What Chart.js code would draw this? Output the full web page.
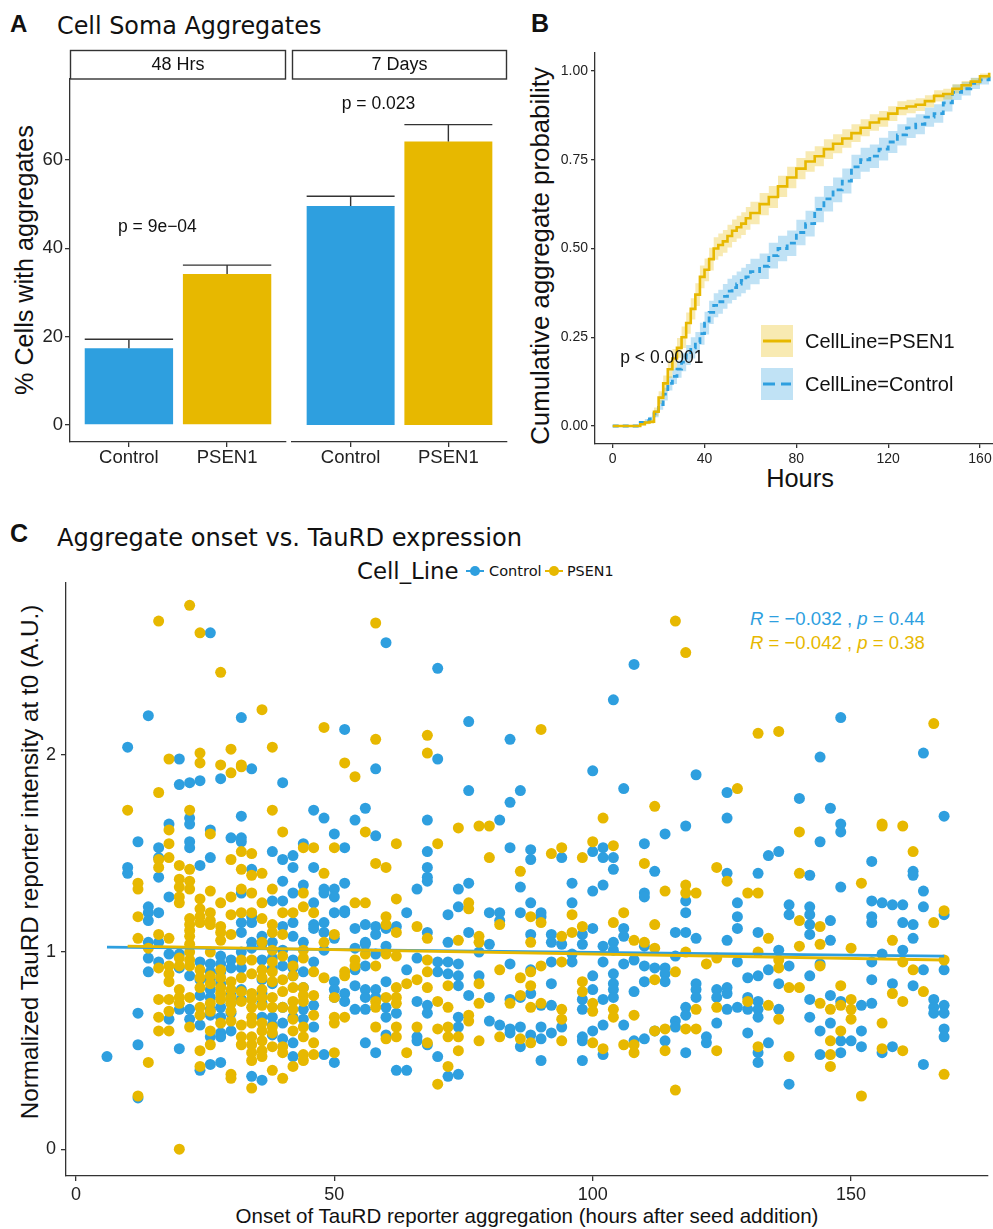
<!DOCTYPE html>
<html>
<head>
<meta charset="utf-8">
<script src="https://cdn.jsdelivr.net/npm/chart.js@4.4.1/dist/chart.umd.min.js"></script>
<style>
html, body { margin: 0; padding: 0; background: #fff; overflow: hidden; }
body { width: 993px; height: 1229px; position: relative; font-family: "Liberation Sans", Arial, sans-serif; color: #111; }
canvas { position: absolute; }
.t { position: absolute; white-space: nowrap; line-height: 1; transform: translateY(-50%); }
.c { position: absolute; white-space: nowrap; line-height: 1; transform: translate(-50%, -50%); }
.r { position: absolute; white-space: nowrap; line-height: 1; transform: translate(-50%, -50%) rotate(-90deg); }
.b { font-weight: bold; }
.dv { font-family: "DejaVu Sans", Verdana, sans-serif; }
.mk { position: absolute; width: 18px; height: 12px; transform: translate(-50%, -50%); }
.mk::before { content: ""; position: absolute; left: 0; right: 0; top: 5px; height: 2px; background: currentColor; }
.mk::after { content: ""; position: absolute; left: 4px; top: 1px; width: 10px; height: 10px; border-radius: 50%; background: currentColor; }
</style>
</head>
<body>

<div class="t b" style="left:10px; top:24px; font-size:24px;">A</div>
<div class="t dv fit" data-w="265" style="left:57px; top:27px; font-size:22px;">Cell Soma Aggregates</div>
<div class="t b" style="left:531px; top:23px; font-size:25px;">B</div>
<div class="t b" style="left:10px; top:533px; font-size:25px;">C</div>
<div class="t dv fit" data-w="465" style="left:57px; top:538px; font-size:22px;">Aggregate onset vs. TauRD expression</div>

<div class="r fit" data-w="270" style="left:25px; top:260px; font-size:22px;">% Cells with aggregates</div>
<div class="r fit" data-w="378" style="left:541px; top:256px; font-size:22px;">Cumulative aggregate probability</div>
<div class="c fit" data-w="68" style="left:800px; top:479px; font-size:25px;">Hours</div>
<div class="r fit" data-w="515" style="left:30px; top:862px; font-size:18px;">Normalized TauRD reporter intensity at t0 (A.U.)</div>
<div class="c fit" data-w="583" style="left:527px; top:1216px; font-size:18.5px;">Onset of TauRD reporter aggregation (hours after seed addition)</div>

<div class="t dv fit" data-w="102" style="left:357px; top:571px; font-size:17px;">Cell_Line</div>
<div class="mk" style="left:475px; top:571px; color:#2E9FDF;"></div>
<div class="t dv fit" data-w="53" style="left:489px; top:571px; font-size:14px;">Control</div>
<div class="mk" style="left:554px; top:571px; color:#E7B800;"></div>
<div class="t dv fit" data-w="47" style="left:567px; top:571px; font-size:14px;">PSEN1</div>

<div class="t fit" data-w="175" style="left:750px; top:619px; font-size:17.5px; color:#2E9FDF;"><i>R</i> = −0.032 , <i>p</i> = 0.44</div>
<div class="t fit" data-w="175" style="left:750px; top:643px; font-size:17.5px; color:#E7B800;"><i>R</i> = −0.042 , <i>p</i> = 0.38</div>

<canvas id="a1" width="290" height="490" style="left:0px; top:0px;"></canvas>
<canvas id="a2" width="230" height="490" style="left:286px; top:0px;"></canvas>
<canvas id="km" width="500" height="500" style="left:510px; top:0px;"></canvas>
<canvas id="sc" width="993" height="673" style="left:0px; top:556px;"></canvas>

<script>
const BLUE = '#2E9FDF';
const YELLOW = '#E7B800';
const BLUE_BAND = 'rgba(46,159,223,0.30)';
const YELLOW_BAND = 'rgba(231,184,0,0.30)';
const AXIS = '#333';
const SANS = '"Liberation Sans", Arial, sans-serif';

// ---- panel A : % cells with aggregates ----
const groups = ['Control', 'PSEN1'];
const mean48h = [17.4, 34.2];
const upper48h = [19.4, 36.2];
const mean7d = [49.6, 64.2];
const upper7d = [51.8, 68.0];
const aggTicks = [0, 20, 40, 60];

// ---- panel B : cumulative aggregate probability ----
const kmHours = [0, 10, 12, 14, 16, 18, 20, 22, 24, 26, 28, 30, 32, 34, 36, 38, 40, 42, 44, 46, 48, 50, 52, 54, 56, 58, 60,
  64, 68, 72, 76, 80, 84, 88, 92, 96, 100, 104, 108, 112, 116, 120, 124, 128, 132, 136, 140, 144, 148, 152, 156, 160, 164];
const psenCum = [0, 0, 0.005, 0.01, 0.012, 0.04, 0.08, 0.12, 0.16, 0.19, 0.22, 0.25, 0.29, 0.33, 0.37, 0.42, 0.44, 0.47, 0.50, 0.51, 0.52, 0.535, 0.55, 0.56, 0.57, 0.585, 0.60,
  0.625, 0.645, 0.675, 0.70, 0.725, 0.745, 0.76, 0.78, 0.795, 0.81, 0.825, 0.84, 0.855, 0.865, 0.88, 0.895, 0.90, 0.905, 0.915, 0.93, 0.935, 0.95, 0.96, 0.97, 0.985, 0.995];
const ctrlCum = [0, 0, 0.01, 0.015, 0.02, 0.035, 0.06, 0.09, 0.12, 0.14, 0.16, 0.18, 0.20, 0.22, 0.235, 0.26, 0.29, 0.32, 0.34, 0.35, 0.365, 0.38, 0.39, 0.40, 0.41, 0.42, 0.435,
  0.45, 0.48, 0.50, 0.515, 0.545, 0.57, 0.61, 0.64, 0.665, 0.69, 0.73, 0.75, 0.76, 0.78, 0.80, 0.82, 0.84, 0.85, 0.87, 0.88, 0.91, 0.94, 0.95, 0.965, 0.975, 0.985];
const psenHalf = [0, 0, 0.003, 0.005, 0.006, 0.012, 0.018, 0.022, 0.025, 0.027, 0.028, 0.03, 0.03, 0.03, 0.032, 0.032, 0.032, 0.032, 0.032, 0.032, 0.032, 0.032, 0.032, 0.032, 0.032, 0.032, 0.032,
  0.031, 0.031, 0.03, 0.03, 0.03, 0.029, 0.028, 0.028, 0.027, 0.026, 0.025, 0.024, 0.023, 0.022, 0.021, 0.02, 0.019, 0.018, 0.017, 0.016, 0.015, 0.013, 0.012, 0.01, 0.008, 0.006];
const ctrlHalf = [0, 0, 0.004, 0.005, 0.006, 0.01, 0.014, 0.018, 0.02, 0.022, 0.024, 0.026, 0.028, 0.03, 0.03, 0.031, 0.032, 0.033, 0.034, 0.034, 0.035, 0.035, 0.035, 0.035, 0.036, 0.036, 0.036,
  0.036, 0.036, 0.036, 0.036, 0.036, 0.036, 0.036, 0.036, 0.035, 0.035, 0.034, 0.034, 0.033, 0.032, 0.031, 0.03, 0.029, 0.028, 0.027, 0.026, 0.024, 0.022, 0.019, 0.016, 0.013, 0.01];
const kmXTicks = [0, 40, 80, 120, 160];
const kmYTicks = [0, 0.25, 0.5, 0.75, 1];

// ---- panel C : onset hour -> normalized intensity, per hour column ----
const controlCols = [
  [6, [0.47]], [10, [2.04, 1.43, 1.40]], [12, [1.56, 0.69, 0.53, 0.26]],
  [14, [2.20, 1.23, 1.20, 1.16, 1.05, 0.97, 0.90]], [16, [1.53, 1.48, 1.38, 1.20, 1.05, 0.95]],
  [18, [1.65, 1.28, 0.99, 0.66]], [20, [1.98, 1.85, 0.99, 0.92, 0.71, 0.51]],
  [22, [1.86, 1.68, 1.65, 1.56, 1.53, 0.88, 0.71, 0.66]], [24, [1.87, 1.44, 0.95, 0.86, 0.78, 0.63, 0.40]],
  [26, [2.62, 1.62, 1.48, 0.94, 0.90, 0.86, 0.81, 0.77, 0.71, 0.68, 0.57, 0.43]],
  [28, [1.88, 0.98, 0.94, 0.90, 0.84, 0.72, 0.67, 0.59, 0.57, 0.44]],
  [30, [1.58, 0.96, 0.92, 0.78, 0.74, 0.69, 0.60]], [32, [2.19, 1.69, 1.58, 1.56, 1.30, 1.15, 1.10, 1.00, 0.92, 0.81, 0.76]],
  [34, [1.93, 1.42, 1.18, 1.15, 1.05, 1.02, 0.37]], [36, [1.08, 1.04, 0.96, 0.86, 0.79, 0.74, 0.67, 0.35]],
  [38, [1.51, 1.26, 1.05, 0.97, 0.92, 0.84, 0.67, 0.63, 0.58]], [40, [1.86, 1.47, 1.36, 1.26, 1.13, 1.01, 0.93, 0.72, 0.64, 0.56]],
  [42, [1.49, 1.43, 1.30, 1.15, 1.08, 0.96, 0.92, 0.88, 0.67, 0.54, 0.47]], [44, [1.55, 1.34, 1.05, 0.90, 0.82, 0.71, 0.66]],
  [46, [1.72, 1.43, 1.25, 1.14, 1.12, 0.95, 0.73, 0.62]], [48, [1.68, 1.32, 1.30, 1.15, 1.10, 1.01, 0.48]],
  [50, [1.60, 1.32, 1.28, 1.20, 1.07, 0.85, 0.81, 0.77, 0.44]], [52, [2.13, 1.53, 1.35, 1.21, 1.20, 0.79, 0.75]],
  [54, [1.67, 1.12, 1.02, 0.91, 0.83, 0.71]], [56, [1.73, 1.14, 1.05, 1.04, 0.93, 0.81, 0.77, 0.71, 0.54]],
  [58, [1.93, 1.59, 1.13, 1.09, 0.99, 0.81, 0.77, 0.49]], [60, [2.57, 1.12, 1.03, 0.85, 0.72, 0.67, 0.58]],
  [62, [1.13, 0.69, 0.40]], [64, [1.20, 0.91, 0.40]], [66, [1.32, 0.97, 0.75, 0.57, 0.55]],
  [68, [1.67, 1.51, 1.43, 1.38, 1.36, 1.10, 0.73, 0.69, 0.53]], [70, [2.44, 1.98, 0.95, 0.90, 0.47]],
  [72, [1.19, 1.05, 0.95, 0.89, 0.37]], [74, [1.32, 1.23, 0.94, 0.88, 0.83, 0.67, 0.62, 0.38]],
  [76, [2.17, 1.82, 1.35, 1.10, 0.78]], [78, [1.00, 0.88]], [80, [1.20, 1.04, 0.77, 0.65]],
  [82, [1.67, 1.20, 1.16, 0.63]], [84, [2.08, 1.76, 1.53, 0.94, 0.76, 0.61, 0.59]],
  [86, [1.82, 1.33, 1.20, 0.77, 0.62, 0.52]], [88, [1.52, 1.47, 1.25, 1.09, 0.91, 0.79, 0.58]],
  [90, [1.20, 1.18, 0.73, 0.62, 0.56, 0.45]], [92, [1.09, 1.05, 0.95, 0.84, 0.73, 0.59]],
  [94, [1.48, 1.04, 0.62]], [96, [1.35, 1.25, 0.99, 0.95]], [98, [1.09, 1.04, 0.76, 0.71, 0.57, 0.55, 0.45]],
  [100, [1.92, 1.51, 1.31, 1.12, 0.88, 0.81, 0.60]], [102, [1.53, 1.48, 1.34, 1.03, 0.95, 0.76, 0.63, 0.48]],
  [104, [2.28, 1.48, 1.42, 1.05, 1.01, 0.89, 0.84, 0.81, 0.77]], [106, [1.83, 1.12, 1.08, 0.94, 0.63]],
  [108, [2.46, 0.96, 0.80, 0.55]], [110, [1.55, 1.30, 1.28, 1.03, 0.93, 0.85, 0.56]],
  [112, [1.41, 0.92, 0.60]], [114, [1.60, 0.92, 0.89, 0.85, 0.55]], [116, [1.10, 0.98, 0.65, 0.62]],
  [118, [1.64, 1.26, 1.20, 1.10, 0.72, 0.68, 0.49]], [120, [1.90, 1.07, 0.84, 0.81, 0.77]],
  [122, [0.57, 0.54]], [124, [0.81, 0.77, 0.64]], [126, [1.81, 1.68, 1.40, 1.06, 0.82, 0.79, 0.71]],
  [128, [1.25, 1.18, 1.12, 0.95, 0.72]], [130, [0.87, 0.77, 0.71, 0.59]],
  [132, [1.40, 1.10, 0.88, 0.75, 0.71, 0.67, 0.49, 0.44]], [134, [1.49, 0.91, 0.54]],
  [136, [1.51, 1.01, 0.84, 0.71]], [138, [1.24, 1.19, 0.93, 0.33]], [140, [1.78]],
  [142, [1.39, 1.23, 1.19, 1.14, 1.09, 0.88, 0.76, 0.67]], [144, [1.99, 1.56, 0.94, 0.60, 0.48]],
  [146, [1.73, 1.16, 1.06, 0.78, 0.64]], [148, [2.19, 1.65, 1.61, 1.33, 0.75, 0.55, 0.49]],
  [150, [0.55]], [152, [0.73, 0.60, 0.52]], [154, [1.46, 1.26, 1.18, 1.15, 0.95, 0.86, 0.74]],
  [156, [1.25, 0.99, 0.49]], [158, [1.24, 0.84, 0.52]], [160, [1.24, 1.15, 1.01]],
  [162, [1.41, 1.39, 1.14, 1.07, 0.83]], [164, [2.01, 1.31, 1.23, 0.91, 0.43]],
  [166, [0.76, 0.72, 0.69]], [168, [1.69, 1.19, 0.91, 0.73, 0.69, 0.61, 0.57]]
];
const psenCols = [
  [10, [1.72]], [12, [1.35, 1.32, 1.18, 1.07, 0.27]], [14, [1.02, 0.44]],
  [16, [2.68, 1.81, 1.47, 1.43, 1.09, 0.92, 0.76, 0.67, 0.60]],
  [18, [1.98, 1.62, 1.55, 1.48, 1.07, 0.93, 0.89, 0.85, 0.76, 0.70, 0.60]],
  [20, [1.44, 1.37, 1.33, 1.28, 1.25, 0.97, 0.93, 0.81, 0.77, 0.74, 0.00]],
  [22, [2.76, 1.72, 1.42, 1.36, 1.32, 1.17, 1.14, 1.11, 1.08, 1.04, 1.00, 0.96, 0.93, 0.77, 0.62]],
  [24, [2.62, 2.01, 1.96, 1.27, 1.22, 1.18, 1.15, 0.91, 0.87, 0.82, 0.72, 0.68, 0.50, 0.42]],
  [26, [1.60, 1.31, 1.20, 1.16, 1.14, 1.00, 0.88, 0.84, 0.74, 0.70, 0.60, 0.53]],
  [28, [2.42, 1.95, 1.25, 1.13, 1.10, 1.06, 0.91, 0.87, 0.82, 0.79, 0.76, 0.64]],
  [30, [2.03, 1.91, 1.47, 1.28, 1.19, 1.09, 0.85, 0.81, 0.77, 0.74, 0.70, 0.65, 0.38, 0.36]],
  [32, [1.95, 1.94, 1.51, 1.42, 1.32, 1.20, 0.96, 0.87, 0.80, 0.75, 0.63, 0.57, 0.53]],
  [34, [1.50, 1.39, 1.30, 1.20, 0.96, 0.89, 0.79, 0.76, 0.72, 0.67, 0.64, 0.57, 0.53, 0.49, 0.45, 0.31]],
  [36, [2.23, 1.40, 1.25, 1.17, 1.05, 0.91, 0.87, 0.81, 0.77, 0.73, 0.64, 0.60, 0.55, 0.50, 0.47]],
  [38, [2.04, 1.72, 1.32, 1.14, 1.10, 1.01, 0.95, 0.90, 0.85, 0.77, 0.72, 0.62, 0.59, 0.52, 0.40]],
  [40, [1.61, 1.20, 1.09, 0.98, 0.86, 0.80, 0.72, 0.52, 0.49, 0.36]],
  [42, [1.20, 0.93, 0.88, 0.82, 0.75, 0.71, 0.66, 0.60, 0.42]],
  [44, [1.53, 1.30, 1.23, 1.01, 0.97, 0.82, 0.78, 0.75, 0.62, 0.57, 0.48, 0.45]],
  [46, [1.53, 1.20, 0.90, 0.78, 0.68, 0.54, 0.48]], [48, [2.14, 1.40, 1.05, 0.87]],
  [50, [1.53, 1.09, 0.77, 0.67, 0.64, 0.49]], [52, [1.96, 0.90, 0.88, 0.67]],
  [54, [1.89, 1.25, 0.96, 0.93]], [56, [1.61, 1.25, 0.99]],
  [58, [2.67, 2.08, 1.45, 0.93, 0.75, 0.72, 0.62]], [60, [1.43, 1.18, 1.14, 0.99, 0.77, 0.56]],
  [62, [1.55, 1.27, 1.10, 0.98, 0.82, 0.77, 0.74, 0.62, 0.57]], [64, [0.84, 0.49]],
  [66, [1.13, 0.86, 0.62]], [68, [2.10, 2.01, 1.07, 0.96, 0.90, 0.82, 0.54]],
  [70, [1.55, 0.75, 0.61, 0.33]], [72, [0.83, 0.72, 0.62, 0.57, 0.42]], [74, [1.63, 1.06, 0.57, 0.50]],
  [76, [1.25, 1.22, 0.68, 0.65]], [78, [1.64, 1.08, 1.05, 0.84, 0.74, 0.55]], [80, [1.64, 1.48]],
  [82, [1.14, 0.91, 0.57]], [84, [0.74]], [86, [1.41, 0.87, 0.78, 0.56]],
  [88, [1.18, 1.05, 0.90, 0.83, 0.72, 0.54]], [90, [2.13, 1.15, 0.93, 0.74]], [92, [1.50]],
  [94, [1.53, 1.08, 0.95, 0.71, 0.66, 0.55]], [96, [1.19, 1.10]], [98, [1.48, 1.13, 0.85, 0.80]],
  [100, [1.56, 0.74, 0.70, 0.54]], [102, [1.68, 0.51]], [104, [1.54, 1.15, 0.71, 0.67]],
  [106, [1.20, 0.53]], [108, [1.06, 0.68, 0.53, 0.49]], [110, [1.45, 1.05]],
  [112, [1.74, 1.14, 1.02, 0.86, 0.60]], [114, [1.31, 0.61, 0.50]], [116, [2.68, 0.90, 0.30]],
  [118, [2.52, 1.34, 1.30, 1.00, 0.61]], [120, [1.30, 0.71, 0.61]], [122, [0.94]],
  [124, [1.43, 0.97, 0.72, 0.50]], [126, [1.36]], [128, [1.83]], [130, [1.30, 0.75]],
  [132, [2.11, 1.30, 1.00, 0.52]], [134, [1.07, 0.73]], [136, [2.12, 0.96, 0.92, 0.66]],
  [138, [0.82, 0.47]], [140, [1.61, 1.40, 1.16, 1.03, 0.82]], [144, [1.13, 1.04, 0.93, 0.74]],
  [146, [0.71, 0.55, 0.48, 0.42]], [148, [0.83, 0.73, 0.60]], [150, [1.02, 0.76, 0.71, 0.66]],
  [152, [1.35, 0.27]], [156, [1.65, 1.64, 0.64, 0.51]], [158, [1.06, 0.79]],
  [160, [1.64, 0.95, 0.75, 0.50]], [162, [1.51, 0.91]], [164, [0.80]], [166, [2.16, 1.15]],
  [168, [1.21, 0.96, 0.38]]
];
// fitted lm lines (start and end)
const controlFit = [[6, 1.025], [168, 0.98]];
const psenFit = [[10, 1.03], [168, 0.96]];
const scXTicks = [0, 50, 100, 150];
const scYTicks = [0, 1, 2];

Chart.defaults.font.family = SANS;
Chart.defaults.color = '#222';

function fixTicks(values) {
  return scale => { scale.ticks = values.map(v => ({ value: v })); };
}

function axisStyle(size) {
  return {
    grid: { display: true, drawOnChartArea: false, drawTicks: true, tickLength: 5, color: AXIS, lineWidth: 1.3, offset: false },
    border: { display: true, color: AXIS, width: 1.3 },
    ticks: { font: { size: size }, color: '#222', padding: 2, maxRotation: 0, autoSkip: false }
  };
}

// strips, error bars and p value for a facet of panel A
function facetPlugin(strip, means, uppers, pText, pPos) {
  return {
    id: 'facet',
    afterDatasetsDraw(chart) {
      const { ctx, chartArea: a, scales: { x, y } } = chart;
      ctx.save();
      ctx.strokeStyle = AXIS;
      ctx.lineWidth = 1.4;
      const half = x.getPixelForValue(1.45) - x.getPixelForValue(1);
      means.forEach((m, i) => {
        const cx = x.getPixelForValue(i + 1);
        const yt = y.getPixelForValue(uppers[i]);
        const yb = y.getPixelForValue(m);
        ctx.beginPath();
        ctx.moveTo(cx, yb); ctx.lineTo(cx, yt);
        ctx.moveTo(cx - half, yt); ctx.lineTo(cx + half, yt);
        ctx.stroke();
      });
      ctx.fillStyle = '#fff';
      ctx.fillRect(a.left, a.top - 29, a.right - a.left, 29);
      ctx.strokeRect(a.left + 0.5, a.top - 28.5, a.right - a.left - 1, 28.5);
      ctx.fillStyle = '#111';
      ctx.font = '18px ' + SANS;
      ctx.textAlign = 'center';
      ctx.textBaseline = 'middle';
      ctx.fillText(strip, (a.left + a.right) / 2, a.top - 14);
      ctx.textAlign = 'left';
      ctx.textBaseline = 'alphabetic';
      ctx.font = '17.5px ' + SANS;
      ctx.fillText(pText, x.getPixelForValue(pPos[0]), y.getPixelForValue(pPos[1]));
      ctx.restore();
    }
  };
}

function makeFacet(id, means, uppers, strip, pText, pPos, showY, pad) {
  const xs = axisStyle(18.5);
  const ys = axisStyle(18.5);
  new Chart(document.getElementById(id), {
    type: 'bar',
    data: {
      datasets: [{
        data: means.map((m, i) => ({ x: i + 1, y: m })),
        backgroundColor: [BLUE, YELLOW],
        borderWidth: 0,
        barPercentage: 0.9,
        categoryPercentage: 1
      }]
    },
    options: {
      responsive: false,
      animation: false,
      layout: { padding: pad },
      plugins: { legend: { display: false }, tooltip: { enabled: false } },
      scales: {
        x: {
          type: 'linear', min: 0.4, max: 2.6, offset: false,
          afterBuildTicks: fixTicks([1, 2]),
          afterFit: s => { s.height = 48; },
          grid: xs.grid, border: xs.border,
          ticks: Object.assign({}, xs.ticks, { padding: 0, callback: v => groups[Math.round(v) - 1] })
        },
        y: {
          display: showY,
          min: -3.85, max: 78.34,
          afterBuildTicks: fixTicks(aggTicks),
          afterFit: s => { s.width = showY ? 70 : 0; },
          grid: ys.grid, border: ys.border, ticks: ys.ticks
        }
      }
    },
    plugins: [facetPlugin(strip, means, uppers, pText, pPos)]
  });
}

makeFacet('a1', mean48h, upper48h, '48 Hrs', 'p = 9e\u221204', [0.889, 43.8], true, { top: 79, left: 0, right: 4, bottom: 0 });
makeFacet('a2', mean7d, upper7d, '7 Days', 'p = 0.023', [0.909, 71.5], false, { top: 79, left: 6, right: 9, bottom: 0 });

// ---- panel B ----
function kmSeries(vals, half, sign) {
  return kmHours.map((h, i) => ({ x: h, y: vals[i] + sign * half[i] }));
}

const kmAnnot = {
  id: 'kmAnnot',
  afterDraw(chart) {
    const { ctx, scales: { x, y } } = chart;
    ctx.save();
    ctx.fillStyle = '#111';
    ctx.font = '17.5px ' + SANS;
    ctx.textBaseline = 'alphabetic';
    ctx.fillText('p < 0.0001', x.getPixelForValue(3.3), y.getPixelForValue(0.178));
    const items = [
      { label: 'CellLine=PSEN1', color: YELLOW, band: YELLOW_BAND, dash: [], top: 325 },
      { label: 'CellLine=Control', color: BLUE, band: BLUE_BAND, dash: [12, 6], top: 368 }
    ];
    items.forEach(it => {
      ctx.fillStyle = it.band;
      ctx.fillRect(251, it.top, 32, 32);
      ctx.strokeStyle = it.color;
      ctx.lineWidth = 3;
      ctx.setLineDash(it.dash);
      ctx.beginPath();
      ctx.moveTo(253, it.top + 16);
      ctx.lineTo(281, it.top + 16);
      ctx.stroke();
      ctx.setLineDash([]);
      ctx.fillStyle = '#111';
      ctx.font = '20px ' + SANS;
      ctx.fillText(it.label, 295, it.top + 23);
    });
    ctx.restore();
  }
};

const kx = axisStyle(14);
const ky = axisStyle(14);
new Chart(document.getElementById('km'), {
  type: 'line',
  data: {
    datasets: [
      { data: kmSeries(psenCum, psenHalf, 0), borderColor: YELLOW, borderWidth: 2.6, stepped: true, pointRadius: 0, fill: false },
      { data: kmSeries(ctrlCum, ctrlHalf, 0), borderColor: BLUE, borderWidth: 2.8, borderDash: [6, 4], stepped: true, pointRadius: 0, fill: false },
      { data: kmSeries(psenCum, psenHalf, 1), borderWidth: 0, stepped: true, pointRadius: 0, backgroundColor: YELLOW_BAND, fill: '+1' },
      { data: kmSeries(psenCum, psenHalf, -1), borderWidth: 0, stepped: true, pointRadius: 0, fill: false },
      { data: kmSeries(ctrlCum, ctrlHalf, 1), borderWidth: 0, stepped: true, pointRadius: 0, backgroundColor: BLUE_BAND, fill: '+1' },
      { data: kmSeries(ctrlCum, ctrlHalf, -1), borderWidth: 0, stepped: true, pointRadius: 0, fill: false }
    ]
  },
  options: {
    responsive: false,
    animation: false,
    layout: { padding: { top: 53, left: 0, right: 0, bottom: 0 } },
    plugins: { legend: { display: false }, tooltip: { enabled: false } },
    scales: {
      x: {
        type: 'linear', min: -7.71, max: 173.07,
        afterBuildTicks: fixTicks(kmXTicks),
        afterFit: s => { s.height = 56; },
        grid: Object.assign({}, kx.grid, { tickLength: 4 }), border: kx.border,
        ticks: Object.assign({}, kx.ticks, { padding: 3 })
      },
      y: {
        min: -0.0507, max: 1.0507,
        afterBuildTicks: fixTicks(kmYTicks),
        afterFit: s => { s.width = 85; },
        grid: Object.assign({}, ky.grid, { tickLength: 4 }), border: ky.border,
        ticks: Object.assign({}, ky.ticks, { padding: 3, callback: v => v.toFixed(2) })
      }
    }
  },
  plugins: [kmAnnot]
});

// ---- panel C ----
function flatten(cols) {
  const pts = [];
  cols.forEach(([h, vals]) => vals.forEach(v => pts.push({ x: h, y: v })));
  return pts;
}
const toXY = arr => arr.map(([x, y]) => ({ x: x, y: y }));

const sx = axisStyle(18);
const sy = axisStyle(18);
new Chart(document.getElementById('sc'), {
  type: 'scatter',
  data: {
    datasets: [
      { type: 'line', data: toXY(psenFit), borderColor: YELLOW, borderWidth: 2.8, pointRadius: 0, showLine: true },
      { type: 'line', data: toXY(controlFit), borderColor: BLUE, borderWidth: 2.8, pointRadius: 0, showLine: true },
      { data: flatten(psenCols), backgroundColor: YELLOW, borderColor: YELLOW, borderWidth: 0, pointRadius: 5.5 },
      { data: flatten(controlCols), backgroundColor: BLUE, borderColor: BLUE, borderWidth: 0, pointRadius: 5.5 }
    ]
  },
  options: {
    responsive: false,
    animation: false,
    layout: { padding: { top: 27, left: 0, right: 3, bottom: 0 } },
    plugins: { legend: { display: false }, tooltip: { enabled: false } },
    scales: {
      x: {
        type: 'linear', min: -1.93, max: 176.4,
        afterBuildTicks: fixTicks(scXTicks),
        afterFit: s => { s.height = 53; },
        grid: sx.grid, border: sx.border,
        ticks: Object.assign({}, sx.ticks, { padding: 3 })
      },
      y: {
        type: 'linear', min: -0.136, max: 2.873,
        afterBuildTicks: fixTicks(scYTicks),
        afterFit: s => { s.width = 66; },
        grid: sy.grid, border: sy.border,
        ticks: Object.assign({}, sy.ticks, { padding: 5 })
      }
    }
  }
});

// size text labels to the measured widths
document.querySelectorAll('.fit').forEach(el => {
  const target = parseFloat(el.dataset.w);
  const size = parseFloat(el.style.fontSize);
  const w = el.offsetWidth;
  if (w > 0) el.style.fontSize = (size * target / w).toFixed(2) + 'px';
});
</script>
</body>
</html>
